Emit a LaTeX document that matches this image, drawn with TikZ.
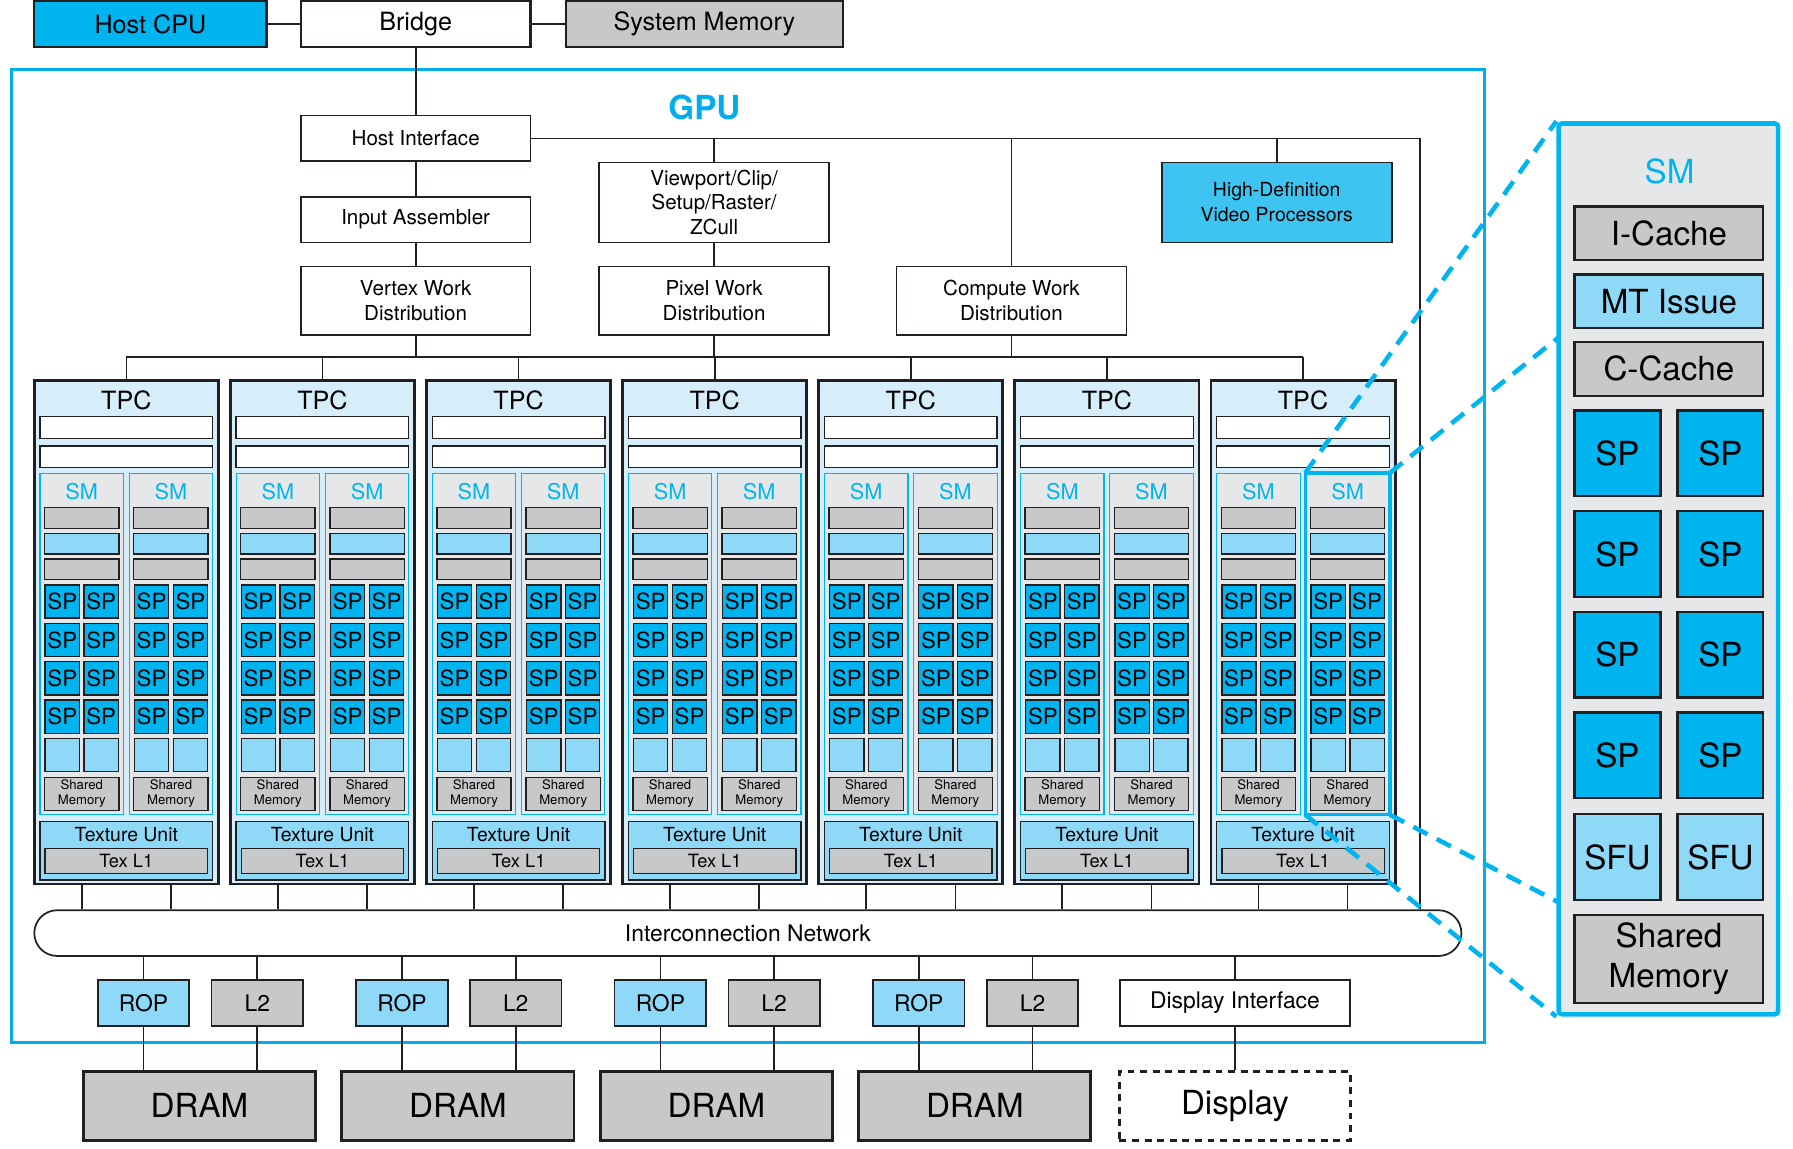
\documentclass[tikz,border=0pt]{standalone}
\usepackage{fontspec}
\setmainfont{TeX Gyre Heros}
\usepackage{tikz}
\usetikzlibrary{positioning,calc}
\definecolor{cyanBright}{RGB}{0,181,239}
\definecolor{cyanHD}{RGB}{62,196,240}
\definecolor{cyanGPU}{RGB}{0,174,239}
\definecolor{blueLight}{RGB}{142,216,248}
\definecolor{blueTPC}{RGB}{214,238,250}
\definecolor{greyBlock}{RGB}{199,200,202}
\definecolor{greySM}{RGB}{230,231,233}
\definecolor{ink}{RGB}{35,31,32}
\newcommand{\fsz}[2]{\fontsize{#1}{#2}\selectfont}

\begin{document}
\begin{tikzpicture}[x=1pt,y=-1pt,font=\fsz{18}{22},
  blk/.style={draw=ink,line width=1.5pt,inner sep=0pt,align=center,
              minimum width=201,minimum height=40,fill=white},
  topblk/.style={blk,line width=2pt,font=\fsz{22}{22}},
  wire/.style={ink,line width=1.5pt},
  tpcbox/.style={draw=ink,line width=2.5pt,fill=blueTPC,minimum width=161,
                 minimum height=440,inner sep=0pt},
  bar/.style={draw=ink,line width=1.2pt,fill=white,minimum width=151,
              minimum height=19,inner sep=0pt},
  smbox/.style={draw=cyanBright,line width=1pt,fill=greySM,minimum width=73,
                minimum height=298,inner sep=0pt},
  strip/.style={draw=ink,line width=1.2pt,inner sep=0pt,minimum width=65,
                minimum height=18},
  cell/.style={draw=ink,line width=1.2pt,inner sep=0pt,minimum width=30,
               minimum height=29,font=\fsz{19.5}{19.5}},
  small/.style={blk,minimum width=80,font=\fsz{20}{20}},
  big/.style={draw=ink,line width=2.5pt,fill=greyBlock,minimum width=203,
              minimum height=60,inner sep=0pt,font=\fsz{29}{29}},
  pblk/.style={draw=ink,line width=2pt,inner sep=0pt,minimum width=165,
               minimum height=47,font=\fsz{29}{35},align=center},
  psq/.style={draw=ink,line width=2pt,inner sep=0pt,minimum width=75,
              minimum height=75,font=\fsz{29}{29}},
  zoomline/.style={cyanBright,line width=4pt,dash pattern=on 14pt off 9pt}]

  \useasboundingbox (0,0) rectangle (1568,1004);

  % GPU frame
  \node[draw=cyanGPU,line width=2.5pt,minimum width=1288,minimum height=851,
        inner sep=0pt] (gpu) at (654,486.5) {};
  \node[font=\fsz{29}{29}\bfseries,text=cyanGPU] (gpulbl) at (616,94) {GPU};

  % host side
  \node[topblk,minimum width=203,fill=cyanBright] (cpu) at (131.5,21) {Host CPU};
  \node[topblk] (bridge) at (363.5,21) {Bridge};
  \node[topblk,minimum width=242,fill=greyBlock] (sysmem) at (616,21) {System Memory};
  \draw[wire,line width=2pt] (cpu) -- (bridge);
  \draw[wire,line width=2pt] (bridge) -- (sysmem);

  % front end
  \node[blk] (hostif) at (363.5,121) {Host Interface};
  \node[blk] (asm) at (363.5,192) {Input Assembler};
  \node[blk,minimum height=60] (vwd) at (363.5,263) {Vertex Work\\Distribution};
  \node[blk,minimum height=70,font=\fsz{18}{21.5}] (view) at (624.5,177)
    {Viewport/Clip/\\Setup/Raster/\\ZCull};
  \node[blk,minimum height=60] (pwd) at (624.5,263) {Pixel Work\\Distribution};
  \node[blk,minimum height=60] (cwd) at (884.5,263) {Compute Work\\Distribution};
  \node[blk,minimum height=70,fill=cyanHD,font=\fsz{17}{22}] (hdv) at (1116.5,177)
    {High-Definition\\Video Processors};

  \node[draw=ink,line width=1.5pt,fill=white,rounded corners=20,minimum width=1248,
        minimum height=40,font=\fsz{20}{20}] (net) at (654,816) {Interconnection Network};

  \coordinate (hostR) at (1242,121);
  \coordinate (busL) at (110.5,312);
  \coordinate (busR) at (1139.5,312);

  \draw[wire] (bridge) -- (hostif);
  \draw[wire] (hostif) -- (asm);
  \draw[wire] (asm) -- (vwd);
  \draw[wire] (view) -- (pwd);
  \draw[wire] (hostif.east) -- (hostR) -- (hostR |- net.north);
  \draw[wire] (view.north) -- (view.north |- hostR);
  \draw[wire] (cwd.north) -- (cwd.north |- hostR);
  \draw[wire] (hdv.north) -- (hdv.north |- hostR);
  \draw[wire] (busL) -- (busR);
  \draw[wire] (vwd.south) -- (vwd.south |- busL);
  \draw[wire] (pwd.south) -- (pwd.south |- busL);
  \draw[wire] (cwd.south) -- (cwd.south |- busL);

  % texture/processor clusters
  \foreach \i in {1,...,7}{
    \pgfmathsetmacro{\cx}{110.5+171.5*(\i-1)}
    \node[tpcbox] (tpc\i) at (\cx,553) {};
    \draw[wire] (tpc\i.north) -- (tpc\i.north |- busL);
    \node[font=\fsz{22}{22}] (tpcl\i) at (\cx,350) {TPC};
    \node[bar] (bara\i) at (\cx,374) {};
    \node[bar] (barb\i) at (\cx,399.5) {};
    \foreach \j in {1,2}{
      \pgfmathsetmacro{\sx}{\cx+78*(\j-1.5)}
      \node[smbox] (sm-\i-\j) at (\sx,563) {};
      \node[text=cyanBright,font=\fsz{19}{19}] (sml-\i-\j) at (\sx,430) {SM};
      \node[strip,fill=greyBlock] (ic-\i-\j) at (\sx,453) {};
      \node[strip,fill=blueLight] (mt-\i-\j) at (\sx,475.5) {};
      \node[strip,fill=greyBlock] (cc-\i-\j) at (\sx,498) {};
      \foreach \r in {1,...,4}
        \foreach \c in {1,2}
          \node[cell,fill=cyanBright] (sp-\i-\j-\r-\c)
            at ({\sx+34*(\c-1.5)},{526+33.6*(\r-1)}) {SP};
      \foreach \c in {1,2}
        \node[cell,fill=blueLight] (sfu-\i-\j-\c) at ({\sx+34*(\c-1.5)},660.3) {};
      \node[strip,fill=greyBlock,minimum height=29,align=center,
            font=\fsz{11.5}{13}] (shm-\i-\j) at (\sx,694.3) {Shared\\Memory};
      \draw[wire] (sm-\i-\j |- tpc\i.south) -- (sm-\i-\j |- net.north);
    }
    \node[draw=ink,line width=1.2pt,fill=blueLight,minimum width=151,
          minimum height=51,inner sep=0pt] (tex\i) at (\cx,744) {};
    \node[font=\fsz{17}{17}] (texl\i) at (\cx,730) {Texture Unit};
    \node[draw=ink,line width=1.2pt,fill=greyBlock,minimum width=142,
          minimum height=22,inner sep=0pt,font=\fsz{16}{16}] (tl1\i) at (\cx,753) {Tex L1};
  }
  \draw[cyanBright,line width=3pt] (sm-7-2.north west) rectangle (sm-7-2.south east);

  % memory side
  \foreach \k in {1,...,4}{
    \pgfmathsetmacro{\gx}{226*(\k-1)}
    \node[small,fill=blueLight] (rop\k) at (125.5+\gx,877) {ROP};
    \node[small,fill=greyBlock] (ltwo\k) at (225+\gx,877) {L2};
    \node[big] (dram\k) at (174.5+\gx,967) {DRAM};
    \draw[wire] (rop\k.north) -- (rop\k.north |- net.south);
    \draw[wire] (ltwo\k.north) -- (ltwo\k.north |- net.south);
    \draw[wire] (rop\k.south) -- (rop\k.south |- dram\k.north);
    \draw[wire] (ltwo\k.south) -- (ltwo\k.south |- dram\k.north);
  }
  \node[blk,font=\fsz{20}{20}] (dispif) at (1080,877) {Display Interface};
  \node[big,fill=white,dash pattern=on 6pt off 5pt,minimum width=202] (disp)
    at (1080,967) {Display};
  \draw[wire] (dispif.north) -- (dispif.north |- net.south);
  \draw[wire] (dispif) -- (disp);

  % SM close-up
  \node[draw=cyanBright,line width=4pt,fill=greySM,rounded corners=3,
        minimum width=192,minimum height=779,inner sep=0pt] (panel) at (1459,497.5) {};
  \node[text=cyanBright,font=\fsz{29}{29}] (psm) at (1460,150) {SM};
  \node[pblk,fill=greyBlock] (picache) at (1459.5,204) {I-Cache};
  \node[pblk,fill=blueLight] (pmt) at (1459.5,263.5) {MT Issue};
  \node[pblk,fill=greyBlock] (pccache) at (1459.5,322.5) {C-Cache};
  \foreach \r in {1,...,4}
    \foreach \c in {1,2}
      \node[psq,fill=cyanBright] (psp-\r-\c) at ({1414.5+90*(\c-1)},{396.5+88*(\r-1)}) {SP};
  \node[psq,fill=blueLight] (psfu1) at (1414.5,749.5) {SFU};
  \node[psq,fill=blueLight] (psfu2) at (1504.5,749.5) {SFU};
  \node[pblk,fill=greyBlock,minimum height=77] (pshm) at (1459.5,838.5) {Shared\\Memory};

  \coordinate (zoomA) at (1363,295);
  \coordinate (zoomB) at (1363,789);
  \draw[zoomline] (sm-7-2.north west) -- (panel.north west);
  \draw[zoomline] (sm-7-2.north east) -- (zoomA);
  \draw[zoomline] (sm-7-2.south west) -- (panel.south west);
  \draw[zoomline] (sm-7-2.south east) -- (zoomB);
\end{tikzpicture}
\end{document}
